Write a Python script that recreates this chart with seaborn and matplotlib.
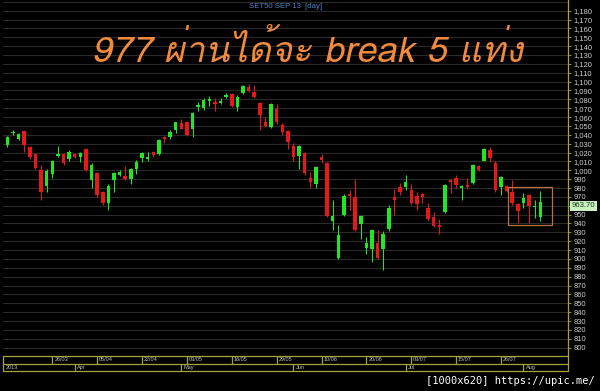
import numpy as np
import pandas as pd
import matplotlib
matplotlib.use("Agg")
import matplotlib.pyplot as plt
import matplotlib.transforms as mtransforms
from matplotlib.patches import Rectangle
from matplotlib import font_manager
import seaborn as sns

# ---------------- data ----------------
open_ = [1028, 1041.5, 1035.5, 1044, 1026, 1018, 1000, 982, 996, 1016.5,
         1018, 1013, 1018, 1015, 1024, 989, 997, 976, 963, 989,
         994.5, 993, 990, 1002, 1013.5, 1012.5, 1021, 1018.5, 1038, 1038,
         1045, 1053, 1054, 1046, 1071, 1070, 1078, 1077, 1075.5, 1083,
         1085.7, 1071, 1087.5, 1093.6, 1088.6, 1075.5, 1055, 1049, 1069, 1051,
         1044, 1027, 1016, 1020, 991.7, 984.6, 1014.6, 1008, 943, 901.5,
         949.6, 973, 970, 939.5, 912, 911.3, 917.7, 911, 933.8, 970,
         981.5, 981.5, 977.8, 971, 973, 957, 947, 938.4, 953.3, 989,
         991, 979.7, 983.4, 986, 1005, 1010.8, 1023, 1008.6, 981.5, 982.3,
         975.9, 962, 962.8, 972, 959, 947]
high = [1039, 1045, 1042, 1045, 1027, 1019, 1006, 1001, 1012, 1027,
        1020, 1023, 1019, 1021, 1025, 1008, 998, 977, 984, 998,
        1000, 1005, 1003, 1012, 1021, 1021, 1022, 1035, 1039, 1045,
        1055, 1057.5, 1055, 1066, 1077, 1081, 1084, 1081, 1081, 1087.5,
        1087, 1085, 1096, 1097, 1096, 1077, 1060, 1076, 1075, 1053,
        1045, 1031, 1028, 1021, 998, 1005, 1018, 1009, 966.5, 938,
        973, 978, 990, 950, 924.5, 934, 932.7, 931, 961, 978.6,
        986, 995, 985, 976, 974, 963, 953, 944.7, 985, 990,
        994.7, 983, 991, 1007, 1006, 1025, 1026.6, 1010, 994, 983,
        989, 963, 974.7, 973, 966.5, 977]
low = [1026, 1040, 1034, 1021, 1013, 1002, 967, 976, 991, 1015,
       1006, 1011, 1014, 1009, 999, 980, 970, 961, 955, 975,
       993, 989, 985, 996, 1009, 1011, 1014.5, 1017, 1031, 1035,
       1042, 1046, 1039, 1037, 1067, 1068, 1072, 1067, 1075, 1082,
       1071, 1067, 1086, 1088, 1081, 1045, 1049, 1048, 1052, 1040,
       1024, 1011, 1002, 995, 980, 980, 1008.6, 947, 932.7, 900,
       948, 955, 931, 923, 906, 897, 900, 888, 932, 949.6,
       972, 978, 961, 955, 962.8, 943, 936, 928, 952, 974,
       979.7, 966.5, 979, 984, 999, 1010, 1009.7, 976, 972, 975,
       961, 941, 957, 941, 946, 943]
close = [1037, 1043.5, 1040.5, 1028, 1015, 1003, 975, 999.5, 1010, 1018,
         1008, 1021, 1015, 1020, 1000, 1006, 972, 963, 982, 996.5,
         998.5, 990.5, 1001, 1009.5, 1019, 1015.3, 1017, 1034, 1035, 1043,
         1054, 1047, 1040, 1065, 1073.6, 1079, 1080, 1074.4, 1078, 1085,
         1072.5, 1083, 1095, 1089.7, 1082.3, 1062.3, 1050, 1074.7, 1054, 1043.5,
         1031.5, 1015, 1027, 996.6, 986.5, 1004, 1011.6, 948.5, 948.5, 927,
         971.4, 971, 932.7, 948.5, 918.4, 932.7, 901.5, 928, 957, 966.5,
         976, 987, 963.5, 962, 969.6, 944.8, 937.2, 935.7, 983.4, 987,
         983.4, 982.3, 980.8, 1006, 1000.3, 1023.7, 1013.5, 977.8, 992.8, 977,
         962.8, 954.5, 968.4, 959.5, 960, 963.7]

y_ticks = list(range(800, 1190, 10))
date_ticks = [8, 16, 24, 32, 40, 48, 56, 64, 72, 80, 88]
date_labels = ["26/03", "05/04", "22/04", "03/05", "16/05", "29/05",
               "10/06", "20/06", "03/07", "15/07", "26/07"]
month_ticks = [-0.84, 12, 31, 51, 71, 92]
month_labels = ["2013", "Apr", "May", "Jun", "Jul", "Aug"]
last_price = 963.70
title_text = "977 ผ่านได้จะ break 5 แท่ง"
header_text = "SET50 SEP 13  [day]"

df = pd.DataFrame({"open": open_, "high": high, "low": low, "close": close})
df["idx"] = np.arange(len(df))

# ---------------- style ----------------
sns.set_theme(style="dark", rc={"axes.facecolor": "black",
                                "figure.facecolor": "black",
                                "savefig.facecolor": "black"})
plt.rcParams["font.family"] = ["Liberation Sans", "DejaVu Sans"]


def find_thai_font():
    try:
        from fontTools.ttLib import TTFont
    except Exception:
        return None
    for f in font_manager.fontManager.ttflist:
        try:
            tt = TTFont(f.fname, fontNumber=0, lazy=True)
            cmap = tt.getBestCmap()
            if cmap and 0x0E1C in cmap and 0x0E49 in cmap:
                return f.name
        except Exception:
            continue
    return None


thai_font = find_thai_font()
title_family = [thai_font, "DejaVu Sans"] if thai_font else ["DejaVu Sans"]

GREEN = "#22e622"
RED = "#e81818"
OLIVE = "#a3a33a"

W, H = 600, 391
fig = plt.figure(figsize=(6, 3.91), dpi=100)
ax = fig.add_axes([2.7 / W, 35 / H, 565.6 / W, 356 / H])
ax.set_xlim(-0.84, 100)
ax.set_ylim(790.6, 1192)

# grid
for v in y_ticks + [1190]:
    ax.axhline(v, color="#2a2a2a", lw=0.8, zorder=0)

up = df["close"] >= df["open"]
cols = np.where(up, GREEN, RED)
ax.vlines(df["idx"], df["low"], df["high"], colors=cols, lw=0.75, zorder=2)
body_h = np.maximum((df["close"] - df["open"]).abs(), 0.9)
body_b = np.minimum(df["open"], df["close"])
ax.bar(df["idx"], body_h, bottom=body_b, width=0.62, color=cols,
       linewidth=0, zorder=3)

# highlight box
ax.add_patch(Rectangle((89.3, 938.5), 7.85, 42.5, fill=False,
                       edgecolor="#b8703f", lw=0.9, zorder=4))

for s in ["top", "left", "bottom"]:
    ax.spines[s].set_visible(False)
ax.spines["right"].set_color(OLIVE)
ax.spines["right"].set_linewidth(0.9)
ax.set_xticks([])
ax.yaxis.tick_right()
ax.set_yticks(y_ticks)
# the 960 label sits behind the last-price box in the reference
ax.set_yticklabels(["" if v == 960 else f"{v:,}" for v in y_ticks])
ax.tick_params(axis="y", which="both", right=True, length=2, width=0.6,
               color=OLIVE, labelcolor="#cfcfcf", labelsize=5.4, pad=2)
ax.grid(False)

# last price label
trans = mtransforms.blended_transform_factory(ax.transAxes, ax.transData)
ax.text(1.006, last_price, f"{last_price:.2f}", transform=trans, va="top",
        ha="left", fontsize=5.6, color="#1a3a1a",
        bbox=dict(facecolor="#c9f2c0", edgecolor="none", pad=1.2),
        clip_on=False, zorder=6)

# date axis
axd = fig.add_axes([2.7 / W, 20 / H, 565.6 / W, 15 / H])
axd.set_xlim(-0.84, 100)
axd.set_ylim(0, 2)
axd.axis("off")
axd.add_patch(Rectangle((-0.84, 0), 100.84, 2, fill=False, edgecolor=OLIVE,
                        lw=0.9, clip_on=False))
axd.hlines(1, -0.84, 100, colors=OLIVE, lw=0.9, clip_on=False)
axd.vlines(date_ticks, 1, 2, colors=OLIVE, lw=0.9)
axd.vlines(month_ticks[1:], 0, 1, colors=OLIVE, lw=0.9)
for x, lab in zip(date_ticks, date_labels):
    axd.text(x + 0.35, 1.5, lab, ha="left", va="center", fontsize=4.0,
             color="#bdbdbd")
for x, lab in zip(month_ticks, month_labels):
    axd.text(x + 0.45, 0.5, lab, ha="left", va="center", fontsize=4.0,
             color="#bdbdbd")

# texts
fig.text(285.5 / W, 1 - 6 / H, header_text, ha="center", va="center",
         fontsize=5.6, color="#4f82c4")
fig.text(307 / W, 1 - 62 / H, title_text, ha="center", va="baseline",
         fontsize=26, color="#f28a3e", style="italic", family=title_family)
fig.text(595 / W, 1 - 381 / H, "[1000x620] https://upic.me/", ha="right",
         va="center", fontsize=7.5, color="white",
         family=["DejaVu Sans Mono"])

fig.savefig("out.png", dpi=100, facecolor="black")
